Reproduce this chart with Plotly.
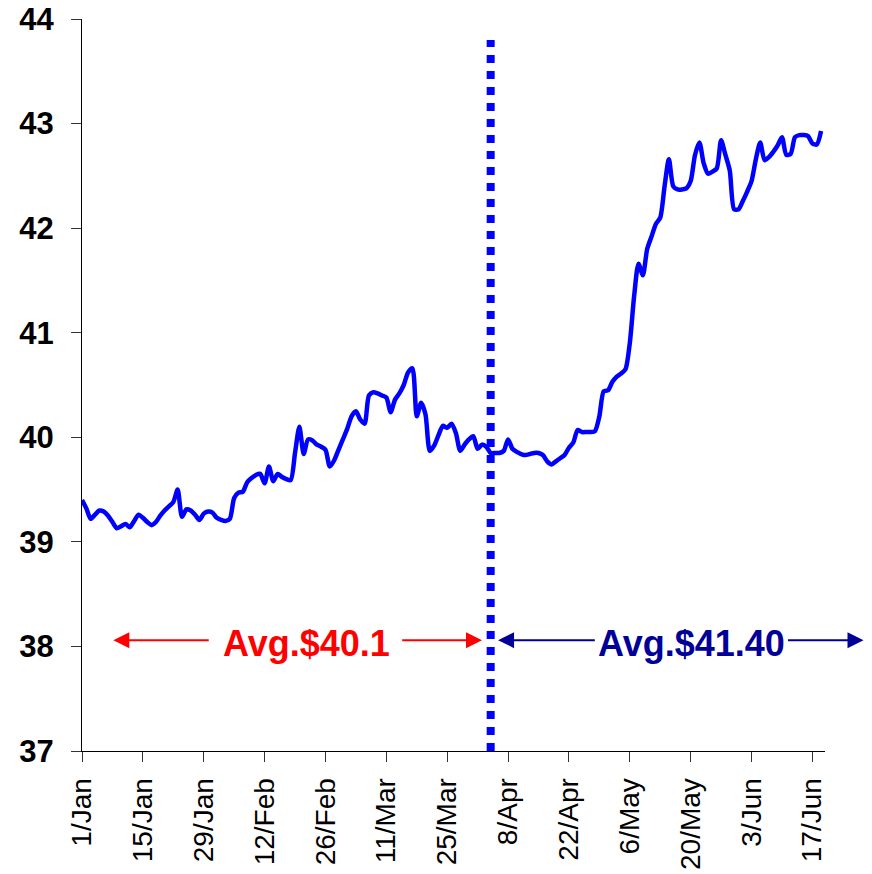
import pandas as pd
import plotly.graph_objects as go

# Daily price, 1 Jan to 19 Jun 2008
start_date = "2008-01-01"
price = [
    39.40, 39.32, 39.22, 39.26, 39.30, 39.29, 39.25, 39.19, 39.13, 39.15,
    39.17, 39.14, 39.20, 39.26, 39.23, 39.19, 39.16, 39.19, 39.25, 39.30,
    39.34, 39.38, 39.50, 39.24, 39.31, 39.30, 39.26, 39.21, 39.27, 39.29,
    39.28, 39.23, 39.21, 39.20, 39.22, 39.42, 39.47, 39.48, 39.57, 39.61,
    39.64, 39.65, 39.56, 39.72, 39.58, 39.65, 39.62, 39.60, 39.59, 39.85,
    40.10, 39.84, 39.98, 39.97, 39.93, 39.91, 39.88, 39.72, 39.78, 39.88,
    39.98, 40.08, 40.20, 40.25, 40.17, 40.13, 40.40, 40.43, 40.42, 40.40,
    40.38, 40.24, 40.36, 40.42, 40.50, 40.62, 40.66, 40.20, 40.33, 40.22,
    39.87, 39.92, 40.02, 40.11, 40.09, 40.13, 40.04, 39.87, 39.93, 39.98,
    40.01, 39.89, 39.93, 39.91, 39.85, 39.85, 39.85, 39.87, 39.98, 39.89,
    39.86, 39.84, 39.83, 39.84, 39.85, 39.85, 39.83, 39.77, 39.74, 39.77,
    39.80, 39.83, 39.90, 39.95, 40.07, 40.05, 40.05, 40.05, 40.06, 40.20,
    40.44, 40.45, 40.53, 40.58, 40.61, 40.65, 40.90, 41.35, 41.66, 41.55,
    41.80, 41.92, 42.04, 42.10, 42.40, 42.66, 42.40, 42.37, 42.37, 42.38,
    42.45, 42.70, 42.82, 42.62, 42.52, 42.54, 42.57, 42.84, 42.70, 42.55,
    42.18, 42.18, 42.26, 42.35, 42.45, 42.66, 42.82, 42.65, 42.68, 42.73,
    42.79, 42.87, 42.70, 42.71, 42.87, 42.89, 42.89, 42.88, 42.81, 42.80,
    42.93,
]
dates = pd.date_range(start_date, periods=len(price), freq="D")

# Period split and averages
split_date = "2008-04-04"
avg_before_label = "Avg.$40.1"
avg_after_label = "Avg.$41.40"

tick_dates = pd.date_range(start_date, "2008-06-17", freq="14D")
tick_labels = [f"{d.day}/{d.strftime('%b')}" for d in tick_dates]
y_ticks = [37, 38, 39, 40, 41, 42, 43, 44]

FONT = "Arial, Liberation Sans, sans-serif"
RED = "#FF0000"
NAVY = "#000099"
BLUE = "#0000FF"

fig = go.Figure()
fig.add_trace(go.Scatter(
    x=dates, y=price, mode="lines",
    line=dict(color=BLUE, width=4.5, shape="spline", smoothing=0.7),
    showlegend=False, hoverinfo="skip",
))
fig.add_trace(go.Scatter(
    x=[split_date, split_date], y=[37, 43.8], mode="lines",
    line=dict(color=BLUE, width=8, dash="dot"),
    showlegend=False, hoverinfo="skip",
))

arrow_y = 38.06
label_y = 38.03


def day(n):
    return pd.Timestamp(start_date) + pd.Timedelta(days=n)


def arrow(head, tail, color, side="end"):
    fig.add_annotation(
        x=head, y=arrow_y, ax=tail, ay=arrow_y,
        xref="x", yref="y", axref="x", ayref="y",
        text="", showarrow=True,
        arrowhead=2, arrowsize=1.6,
        startarrowhead=2, startarrowsize=1.6,
        arrowwidth=2, arrowcolor=color, arrowside=side,
    )


arrow(day(7.2), day(29.5), RED)
arrow(day(92.0), day(73.3), RED)
arrow(day(95.7), day(118.3), NAVY)
arrow(day(162.4), day(180.1), NAVY, side="start")

fig.add_annotation(
    x=day(51.6), y=label_y, xref="x", yref="y", showarrow=False,
    text=f"<b>{avg_before_label}</b>", font=dict(family=FONT, size=36, color=RED),
)
fig.add_annotation(
    x=day(140.3), y=label_y, xref="x", yref="y", showarrow=False,
    text=f"<b>{avg_after_label}</b>", font=dict(family=FONT, size=36, color=NAVY),
)

fig.update_layout(
    width=872, height=874,
    margin=dict(l=82, r=47, t=19, b=123),
    paper_bgcolor="white", plot_bgcolor="white",
    font=dict(family=FONT, color="black"),
)
fig.update_xaxes(
    range=[start_date, "2008-06-19 21:36"],
    tickmode="array", tickvals=tick_dates, ticktext=tick_labels,
    tickangle=-90, tickfont=dict(size=28, family=FONT),
    ticks="outside", ticklen=10, tickcolor="#333333",
    ticklabelstandoff=5, automargin=False,
    showline=True, linecolor="black", linewidth=1,
    showgrid=False, zeroline=False,
)
fig.update_yaxes(
    range=[37, 44], tickvals=y_ticks,
    ticktext=[f"<b>{v}</b>" for v in y_ticks],
    tickfont=dict(size=31, family=FONT),
    ticks="outside", ticklen=10, tickcolor="#333333",
    ticklabelstandoff=11, ticklabeloverflow="allow", automargin=False,
    showline=True, linecolor="black", linewidth=1,
    showgrid=False, zeroline=False,
)

fig.write_html("out.html")
